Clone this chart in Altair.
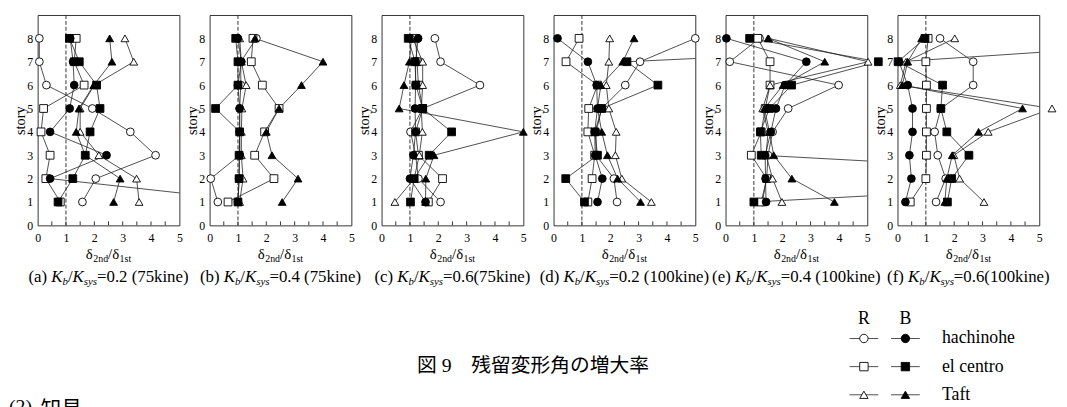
import altair as alt
import pandas as pd

SERIF = "Liberation Serif"
CJK = "Liberation Serif, Noto Sans CJK JP"

STORIES = [1, 2, 3, 4, 5, 6, 7, 8]
QUAKES = ["hachinohe", "el centro", "Taft"]
TYPES = ["R", "B"]
SHAPES = ["circle", "square", "triangle-up"]
FILLS = ["white", "black"]
X_TICKS = [0, 1, 2, 3, 4, 5]
Y_TICKS = [0, 1, 2, 3, 4, 5, 6, 7, 8]
MINOR_TICKS = [0.5, 1.0, 1.5, 2.0, 2.5, 3.0, 3.5, 4.0, 4.5]

# values per story 1..8
A_R_HACHINOHE = [1.58, 2.05, 4.16, 3.27, 1.93, 0.31, 0.06, 0.06]
A_R_ELCENTRO = [0.80, 0.29, 0.44, 0.12, 0.21, 1.64, 1.29, 1.36]
A_R_TAFT = [3.58, 3.49, 2.16, 1.50, 1.50, 2.00, 3.39, 3.08]
A_B_HACHINOHE = [7.9, 0.44, 2.43, 0.44, 1.13, 1.29, 1.25, 1.15]
A_B_ELCENTRO = [0.72, 1.24, 1.68, 1.85, 2.20, 2.08, 1.47, 1.12]
A_B_TAFT = [2.68, 2.91, 1.68, 1.36, 1.46, 1.98, 2.62, 2.54]

B_R_HACHINOHE = [0.29, 0.04, 1.06, 1.06, 1.06, 1.10, 1.10, 1.65]
B_R_ELCENTRO = [0.65, 2.27, 1.59, 1.94, 2.45, 1.86, 1.47, 1.53]
B_R_TAFT = [1.06, 1.18, 1.12, 1.12, 1.14, 1.29, 1.12, 1.06]
B_B_HACHINOHE = [1.00, 1.04, 1.06, 1.06, 1.06, 1.00, 1.12, 1.00]
B_B_ELCENTRO = [1.00, 1.04, 1.04, 1.06, 0.21, 1.00, 1.00, 0.92]
B_B_TAFT = [2.56, 3.12, 2.20, 2.00, 2.45, 3.24, 4.00, 1.60]

C_R_HACHINOHE = [2.08, 1.30, 1.20, 1.02, 1.45, 3.47, 2.08, 1.88]
C_R_ELCENTRO = [1.65, 2.15, 1.30, 1.20, 1.45, 1.30, 1.25, 1.20]
C_R_TAFT = [0.47, 1.15, 1.33, 1.44, 1.40, 1.45, 1.45, 1.10]
C_B_HACHINOHE = [1.55, 1.00, 1.12, 1.20, 1.18, 1.20, 1.20, 1.29]
C_B_ELCENTRO = [1.02, 1.15, 1.68, 2.47, 1.45, 1.21, 1.18, 0.94]
C_B_TAFT = [1.55, 1.56, 1.85, 5.00, 0.62, 0.79, 0.98, 1.05]

D_R_HACHINOHE = [2.24, 2.13, 1.50, 1.50, 1.70, 2.53, 3.05, 5.00]
D_R_ELCENTRO = [1.21, 1.36, 1.45, 1.21, 1.24, 1.55, 0.44, 0.90]
D_R_TAFT = [3.45, 2.41, 2.18, 2.21, 1.95, 1.86, 1.95, 1.98]
D_B_HACHINOHE = [1.55, 1.72, 1.47, 1.45, 1.55, 1.52, 1.21, 0.14]
D_B_ELCENTRO = [1.09, 0.43, 1.55, 1.46, 1.70, 3.68, 2.59, 20.0]
D_B_TAFT = [3.07, 2.26, 1.90, 1.70, 1.55, 1.67, 2.44, 2.84]

E_R_HACHINOHE = [1.30, 1.45, 1.50, 1.66, 2.21, 3.99, 0.15, 1.20]
E_R_ELCENTRO = [1.26, 1.45, 0.91, 1.26, 1.40, 1.57, 1.57, 1.14]
E_R_TAFT = [1.99, 1.66, 1.43, 1.50, 1.31, 1.57, 5.03, 1.52]
E_B_HACHINOHE = [1.43, 1.41, 1.40, 1.60, 1.78, 2.10, 2.85, 0.03]
E_B_ELCENTRO = [1.00, 16.5, 1.26, 1.23, 1.55, 2.33, 5.39, 0.85]
E_B_TAFT = [3.84, 2.34, 1.70, 1.55, 1.37, 2.03, 3.50, 1.50]

F_R_HACHINOHE = [1.36, 1.70, 1.42, 1.31, 1.53, 2.67, 2.67, 1.50]
F_R_ELCENTRO = [0.45, 1.00, 1.02, 1.02, 1.02, 1.02, 1.00, 1.08]
F_R_TAFT = [3.05, 2.19, 1.99, 3.20, 5.45, 0.10, 0.30, 2.02]
F_B_HACHINOHE = [0.28, 0.49, 0.42, 0.53, 0.53, 0.36, 0.05, 12.4]
F_B_ELCENTRO = [1.76, 1.91, 2.52, 1.74, 1.53, 1.59, 0.02, 0.97]
F_B_TAFT = [1.67, 1.74, 1.93, 2.86, 4.41, 0.17, 0.36, 0.85]

PANEL_LETTERS = ["a", "b", "c", "d", "e", "f"]
KB_RATIOS = ["0.2", "0.4", "0.6", "0.2", "0.4", "0.6"]
KINE_LABELS = [" (75kine)", " (75kine)", "(75kine)", " (100kine)", " (100kine)", "(100kine)"]
PANEL_SERIES = [
    [A_R_HACHINOHE, A_R_ELCENTRO, A_R_TAFT, A_B_HACHINOHE, A_B_ELCENTRO, A_B_TAFT],
    [B_R_HACHINOHE, B_R_ELCENTRO, B_R_TAFT, B_B_HACHINOHE, B_B_ELCENTRO, B_B_TAFT],
    [C_R_HACHINOHE, C_R_ELCENTRO, C_R_TAFT, C_B_HACHINOHE, C_B_ELCENTRO, C_B_TAFT],
    [D_R_HACHINOHE, D_R_ELCENTRO, D_R_TAFT, D_B_HACHINOHE, D_B_ELCENTRO, D_B_TAFT],
    [E_R_HACHINOHE, E_R_ELCENTRO, E_R_TAFT, E_B_HACHINOHE, E_B_ELCENTRO, E_B_TAFT],
    [F_R_HACHINOHE, F_R_ELCENTRO, F_R_TAFT, F_B_HACHINOHE, F_B_ELCENTRO, F_B_TAFT],
]
FIG_CAPTION = "図 9　残留変形角の増大率"
NEXT_SECTION = ["(2)", "知見"]

W, H = 143.5, 213
PITCH = 173.6

# Times-compatible advance widths (per 1000 em) for positioning rich-text pieces
TW = {" ": 250, "(": 333, ")": 333, "a": 444, "b": 500, "c": 444, "d": 500, "e": 444,
      "f": 333, "i": 278, "k": 500, "n": 500, "s": 389, "t": 278, "y": 500, "/": 278,
      "=": 564, ".": 250, "K": 722, "δ": 500}
TWI = {"K": 667, "b": 500, "s": 389, "y": 444}


def seg_width(text, size, italic):
    table = TWI if italic else TW
    return sum(table.get(ch, 500) for ch in text) * size / 1000.0


def text_layer(t, x, y, size, font=SERIF, italic=False, align="left"):
    return (
        alt.Chart(pd.DataFrame({"s": [t]}))
        .mark_text(align=align, baseline="alphabetic", font=font, fontSize=size,
                   fontStyle="italic" if italic else "normal", color="black")
        .encode(x=alt.value(x), y=alt.value(y), text="s:N")
    )


def rich_text(segments, cx, base_y):
    total = sum(seg_width(t, s, i) for t, s, i, _ in segments)
    x = cx - total / 2.0
    layers = []
    for t, s, i, dy in segments:
        layers.append(text_layer(t, x, base_y + dy, s, italic=i))
        x += seg_width(t, s, i)
    return layers


x_scale = alt.Scale(domain=[0, 5], nice=False, zero=False)
y_scale = alt.Scale(domain=[0, 9], nice=False, zero=False)
shape_enc = alt.Shape("quake:N", scale=alt.Scale(domain=QUAKES, range=SHAPES), legend=None)
fill_enc = alt.Fill("type:N", scale=alt.Scale(domain=TYPES, range=FILLS), legend=None)

x_axis = alt.Axis(values=X_TICKS, title=None, domain=False, ticks=False, tickSize=0, grid=False,
                  labelFont=SERIF, labelFontSize=12, labelColor="black", labelBaseline="alphabetic",
                  labelPadding=16, labelFlush=False, labelOverlap=False)
y_axis = alt.Axis(values=Y_TICKS, title="story", domain=False, ticks=False, tickSize=0, grid=False,
                  labelFont=SERIF, labelFontSize=12, labelColor="black", labelPadding=5,
                  labelFlush=False, labelOverlap=False,
                  titleFont=SERIF, titleFontSize=14.5, titleFontWeight="normal", titleColor="black",
                  titleX=-17, titleY=106.5, titleAngle=270, titleAlign="center", titleBaseline="middle")


def legend_layers():
    # legend block below panel (f): own point scales, positioned relative to panel (f)
    ldf = pd.DataFrame([{"col": t, "row": q, "type": t, "quake": q} for q in QUAKES for t in TYPES])
    lx = alt.X("col:N", scale=alt.Scale(type="point", domain=TYPES, range=[-34, 8], padding=0), axis=None)
    ly = alt.Y("row:N", scale=alt.Scale(type="point", domain=QUAKES, range=[327.5, 384.5], padding=0), axis=None)
    lticks = alt.Chart(ldf).mark_tick(orient="horizontal", size=29, thickness=1, color="black").encode(x=lx, y=ly)
    lpts = alt.Chart(ldf).mark_point(filled=True, size=72, stroke="black", strokeWidth=0.9, opacity=1).encode(
        x=lx, y=ly, shape=shape_enc, fill=fill_enc)
    head = alt.Chart(pd.DataFrame({"col": TYPES})).mark_text(
        align="center", baseline="alphabetic", font=SERIF, fontSize=18, color="black"
    ).encode(x=lx, y=alt.value(313), text="col:N")
    names = alt.Chart(pd.DataFrame({"row": QUAKES})).mark_text(
        align="left", baseline="middle", font=SERIF, fontSize=18, color="black"
    ).encode(x=alt.value(45), y=ly, text="row:N")
    return alt.layer(lticks, lpts, head, names)


def make_panel(idx):
    arrays = PANEL_SERIES[idx]
    rows = []
    k = 0
    for t in TYPES:
        for q in QUAKES:
            for s, v in zip(STORIES, arrays[k]):
                rows.append({"story": s, "value": v, "type": t, "quake": q, "series": t + "-" + q})
            k += 1
    df = pd.DataFrame(rows)
    base = alt.Chart(df)
    X = alt.X("value:Q", scale=x_scale, axis=x_axis)
    Y = alt.Y("story:Q", scale=y_scale, axis=y_axis)
    lines = base.mark_line(clip=True, color="#222", strokeWidth=0.8).encode(
        x=X, y=Y, detail="series:N", order="story:Q",
    )
    points = base.transform_filter("datum.value <= 5.6").mark_point(
        filled=True, size=62, stroke="black", strokeWidth=0.9, opacity=1
    ).encode(x=X, y=Y, shape=shape_enc, fill=fill_enc)
    ref = alt.Chart(pd.DataFrame({"value": [1.0]})).mark_rule(
        strokeDash=[4, 2], color="#333", strokeWidth=1
    ).encode(x=X)
    minor = alt.Chart(pd.DataFrame({"value": MINOR_TICKS})).mark_rule(color="#333", strokeWidth=1).encode(
        x=X, y=alt.value(H), y2=alt.value(H - 4)
    )
    xtitle = rich_text([("δ", 15, False, 0), ("2nd", 10, False, 3.5), ("/", 15, False, 0),
                        ("δ", 15, False, 0), ("1st", 10, False, 3.5)], W / 2, 247)
    caption = rich_text([("(" + PANEL_LETTERS[idx] + ") ", 17, False, 0), ("K", 17, True, 0),
                         ("b", 11, True, 3), ("/", 17, False, 0), ("K", 17, True, 0),
                         ("sys", 11, True, 3),
                         ("=" + KB_RATIOS[idx] + KINE_LABELS[idx], 17, False, 0)], W / 2, 270.5)
    extra = []
    if idx == 0:
        extra.append(text_layer(NEXT_SECTION[0], -29, 402.5, 20))
        extra.append(text_layer(NEXT_SECTION[1], 3, 405.5, 21, font=CJK))
    if idx == 2:
        extra.append(text_layer(FIG_CAPTION, 420 - (37 + 2 * PITCH), 361, 20, font=CJK))
    layer = alt.layer(ref, minor, lines, points, *xtitle, *caption, *extra)
    if idx == 5:
        layer = alt.layer(layer, legend_layers()).resolve_scale(x="independent", y="independent")
    return layer.properties(width=W, height=H)


panels = [make_panel(i) for i in range(6)]

chart = alt.hconcat(
    *panels, spacing=PITCH - W, bounds="flush"
).properties(
    padding={"left": 0, "top": 3.5, "right": 0, "bottom": 0}
).configure_view(stroke="#333", strokeWidth=1)

chart.save("out.html", embed_options={"renderer": "svg", "actions": False})
